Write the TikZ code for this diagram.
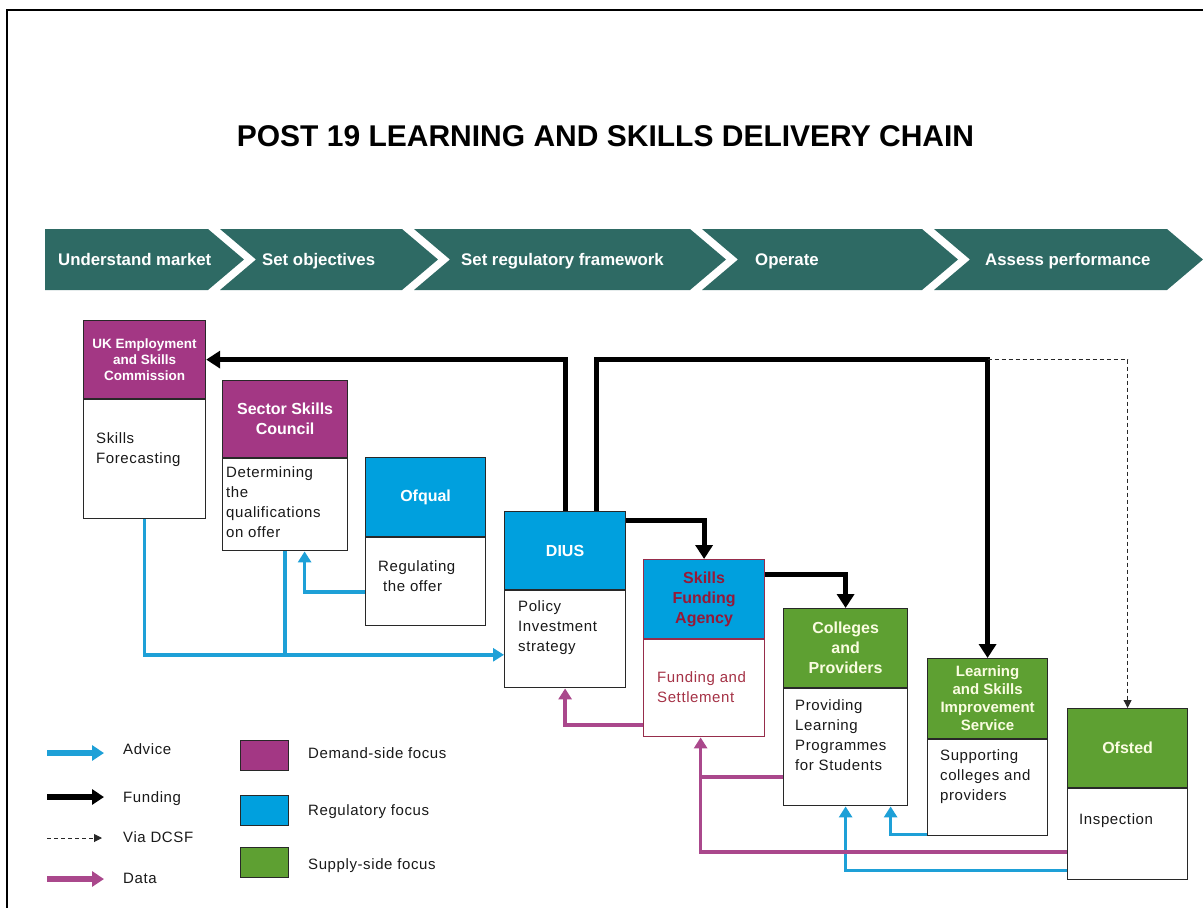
\documentclass[tikz,border=0pt]{standalone}
\usepackage{fontspec}
\setmainfont{Liberation Sans}
\newfontfamily\txtfont[LetterSpace=4]{Liberation Sans}
\usetikzlibrary{arrows.meta}

\definecolor{band}{RGB}{46,106,100}
\definecolor{purp}{RGB}{163,55,132}
\definecolor{regblue}{RGB}{0,160,222}
\definecolor{supgreen}{RGB}{94,160,50}
\definecolor{advc}{RGB}{30,160,215}
\definecolor{datc}{RGB}{170,72,140}
\definecolor{sfared}{RGB}{150,25,55}
\definecolor{sfatxt}{RGB}{165,50,70}
\definecolor{sfaline}{RGB}{150,45,75}
\definecolor{boxline}{RGB}{40,40,40}
\definecolor{txtgray}{RGB}{25,25,25}
\definecolor{paletxt}{RGB}{250,252,225}

\begin{document}
\begin{tikzpicture}[x=1pt,y=-1pt,
  hdr/.style={draw=boxline,line width=1.2pt,anchor=north west,inner sep=0pt,align=center,text=white,font=\bfseries\fontsize{16}{20}\selectfont},
  bod/.style={draw=boxline,line width=1.2pt,fill=white,anchor=north west,inner sep=0pt},
  btxt/.style={anchor=north west,inner sep=0pt,align=left,text=txtgray,font=\txtfont\fontsize{15}{20}\selectfont},
  bandtxt/.style={anchor=base west,inner sep=0pt,text=white,font=\bfseries\fontsize{16.8}{20}\selectfont},
  legtxt/.style={anchor=base west,inner sep=0pt,text=txtgray,font=\txtfont\fontsize{15}{20}\selectfont},
  fund/.style={draw=black,line width=5pt,-{Triangle[length=14pt,width=17pt]}},
  adv/.style={draw=advc,line width=3.5pt,-{Triangle[length=11pt,width=13pt]}},
  advl/.style={draw=advc,line width=3.5pt},
  dat/.style={draw=datc,line width=3.5pt,-{Triangle[length=11pt,width=13pt]}},
  datl/.style={draw=datc,line width=3.5pt},
  via/.style={draw=boxline,line width=1pt,dash pattern=on 4pt off 3pt,-{Triangle[length=8pt,width=8pt]}},
  swatch/.style={draw=boxline,line width=1.2pt,anchor=north west,minimum width=48pt,minimum height=30pt,inner sep=0pt}
]
\useasboundingbox (0,0) rectangle (1203,908);

% page frame (left and top edges)
\draw[line width=2pt] (7,908) -- (7,10) -- (1203,10);

% title
\node[anchor=base,inner sep=0pt,font=\bfseries\fontsize{30}{36}\selectfont] (title) at (605.5,146) {POST 19 LEARNING AND SKILLS DELIVERY CHAIN};

% process chevrons
\fill[band] (45,229) -- (208,229) -- (244,259.5) -- (208,290) -- (45,290) -- cycle;
\fill[band] (220,229) -- (402,229) -- (438,259.5) -- (402,290) -- (220,290) -- (256,259.5) -- cycle;
\fill[band] (414,229) -- (690,229) -- (726,259.5) -- (690,290) -- (414,290) -- (450,259.5) -- cycle;
\fill[band] (702,229) -- (922,229) -- (958,259.5) -- (922,290) -- (702,290) -- (738,259.5) -- cycle;
\fill[band] (934,229) -- (1167,229) -- (1203,259.5) -- (1167,290) -- (934,290) -- (970,259.5) -- cycle;
\node[bandtxt] (s1) at (58,265) {Understand market};
\node[bandtxt] (s2) at (262,265) {Set objectives};
\node[bandtxt] (s3) at (461,265) {Set regulatory framework};
\node[bandtxt] (s4) at (755,265) {Operate};
\node[bandtxt] (s5) at (985,265) {Assess performance};

% organisations: coloured header over white body
\node[hdr,fill=purp,minimum width=122pt,minimum height=78pt,font=\bfseries\fontsize{13.5}{16}\selectfont] (uk) at (83,320) {UK Employment\\and Skills\\Commission};
\node[bod,minimum width=122pt,minimum height=119pt] (ukb) at (uk.south west) {};
\node[btxt] (ukt) at (96,429.4) {\strut Skills\\Forecasting};

\node[hdr,fill=purp,minimum width=125pt,minimum height=77pt] (ssc) at (222,380) {Sector Skills\\Council};
\node[bod,minimum width=125pt,minimum height=92pt] (sscb) at (ssc.south west) {};
\node[btxt] (ssct) at (226,463.4) {\strut Determining\\the\\qualifications\\on offer};

\node[hdr,fill=regblue,minimum width=120pt,minimum height=79pt] (ofq) at (365,457) {Ofqual};
\node[bod,minimum width=120pt,minimum height=88pt] (ofqb) at (ofq.south west) {};
\node[btxt] (ofqt) at (378,557.4) {\strut Regulating\\\hspace*{5pt}the offer};

\node[hdr,fill=regblue,minimum width=121pt,minimum height=78pt] (dius) at (504,511) {DIUS};
\node[bod,minimum width=121pt,minimum height=97pt] (diusb) at (dius.south west) {};
\node[btxt] (diust) at (518,597.4) {\strut Policy\\Investment\\strategy};

\node[hdr,fill=regblue,draw=sfaline,text=sfared,minimum width=121pt,minimum height=79pt] (sfa) at (643,559) {Skills\\Funding\\Agency};
\node[bod,draw=sfaline,minimum width=121pt,minimum height=97pt] (sfab) at (sfa.south west) {};
\node[btxt,text=sfatxt] (sfat) at (657,668.4) {\strut Funding and\\Settlement};

\node[hdr,fill=supgreen,text=paletxt,minimum width=124pt,minimum height=79pt] (col) at (783,608) {Colleges\\and\\Providers};
\node[bod,minimum width=124pt,minimum height=117pt] (colb) at (col.south west) {};
\node[btxt] (colt) at (795,696.4) {\strut Providing\\Learning\\Programmes\\for Students};

\node[hdr,fill=supgreen,text=paletxt,minimum width=120pt,minimum height=80pt,font=\bfseries\fontsize{15}{18}\selectfont] (lsis) at (927,658) {Learning\\and Skills\\Improvement\\Service};
\node[bod,minimum width=120pt,minimum height=96pt] (lsisb) at (lsis.south west) {};
\node[btxt] (lsist) at (940,746.4) {\strut Supporting\\colleges and\\providers};

\node[hdr,fill=supgreen,text=paletxt,minimum width=120pt,minimum height=79pt] (ofs) at (1067,708) {Ofsted};
\node[bod,minimum width=120pt,minimum height=91pt] (ofsb) at (ofs.south west) {};
\node[btxt] (ofst) at (1079,810.4) {\strut Inspection};

% funding flows
\coordinate (split) at (lsis.north |- uk.east);
\draw[fund] (dius.north) |- (uk.east);
\draw[fund] ([xshift=31.5pt]dius.north) |- (split) -- (lsis.north);
\draw[via] (split) -| (ofs.north);
\draw[fund] ([yshift=-9pt]dius.north east) -| (sfa.north);
\draw[fund] ([yshift=-15pt]sfa.north east) -| (col.north);

% advice flows
\coordinate (diusin) at ([yshift=-15.5pt]diusb.west);
\draw[adv] (ukb.south) |- (diusin);
\draw[advl] (sscb.south) -- (sscb.south |- diusin);
\draw[adv] ([yshift=-10pt]ofqb.west) -| ([xshift=19.5pt]sscb.south);
\draw[adv] ([yshift=2pt]lsisb.south west) -| ([xshift=45pt]colb.south);
\draw[adv] ([yshift=10pt]ofsb.south west) -| (colb.south);

% data flows
\coordinate (sfain) at ([xshift=-3.5pt]sfab.south);
\draw[dat] ([yshift=-36.5pt]sfab.west) -| (diusb.south);
\draw[dat] ([yshift=-17.5pt]ofsb.west) -| (sfain);
\draw[datl] ([yshift=-29.5pt]colb.west) coordinate (cold) -- (cold -| sfain);

% key
\coordinate (ka1) at (47,753); \coordinate (ka2) at (104,753);
\coordinate (kf1) at (47,797); \coordinate (kf2) at (104,797);
\coordinate (kv1) at (47,838); \coordinate (kv2) at (102,838);
\coordinate (kd1) at (47,879); \coordinate (kd2) at (104,879);
\draw[draw=advc,line width=6pt,-{Triangle[length=12pt,width=15pt]}] (ka1) -- (ka2);
\draw[draw=black,line width=6pt,-{Triangle[length=12pt,width=15pt]}] (kf1) -- (kf2);
\draw[via] (kv1) -- (kv2);
\draw[draw=datc,line width=6pt,-{Triangle[length=12pt,width=15pt]}] (kd1) -- (kd2);
\node[legtxt] (ka) at (123,754.4) {Advice};
\node[legtxt] (kf) at (123,802.4) {Funding};
\node[legtxt] (kv) at (123,842.4) {Via DCSF};
\node[legtxt] (kd) at (123,883.4) {Data};

\node[swatch,fill=purp] (kp) at (240,740) {};
\node[swatch,fill=regblue] (kb) at (240,795) {};
\node[swatch,fill=supgreen] (kg) at (240,847) {};
\node[legtxt] (kpt) at (308,758.4) {Demand-side focus};
\node[legtxt] (kbt) at (308,815.4) {Regulatory focus};
\node[legtxt] (kgt) at (308,869.4) {Supply-side focus};
\end{tikzpicture}
\end{document}
